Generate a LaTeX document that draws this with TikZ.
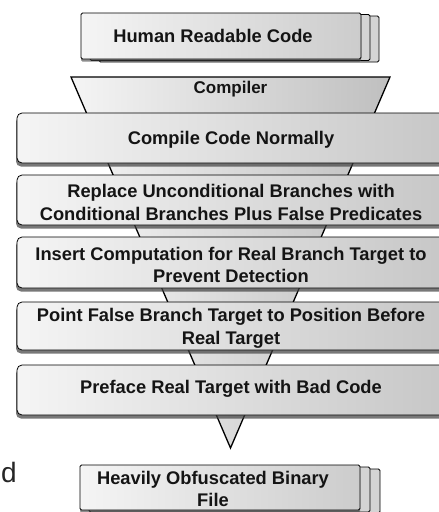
\documentclass[tikz,border=0pt]{standalone}
\usepackage{fontspec}
\setmainfont{Liberation Sans}
\usetikzlibrary{shadows}
\begin{document}
\begin{tikzpicture}[x=1pt,y=-1pt,
  lbl/.style={font=\fontsize{18.3}{22.5}\selectfont\bfseries, align=center, inner sep=0pt, text=black!92},
  stepbox/.style={draw=black, line width=0.8pt, rounded corners=5pt,
    left color=white!96!black, right color=black!22,
    drop shadow={shadow xshift=-1pt, shadow yshift=-3.5pt, fill=black!75, opacity=0.7}},
  docpage/.style={draw=black, line width=0.8pt, rounded corners=1.5pt, fill=black!17},
  docfront/.style={draw=black, line width=0.8pt, rounded corners=1.5pt,
    left color=white!96!black, right color=black!20,
    drop shadow={shadow xshift=0pt, shadow yshift=-2.5pt, fill=black!75, opacity=0.6}},
  funnel/.style={draw=black, line width=1.3pt, line join=miter,
    left color=white!96!black, right color=black!25}
]
\clip (0,0) rectangle (439,512);
\fill[white] (0,0) rectangle (439,512);

% funnel behind the steps
\path[funnel] (71,77) -- (390,77) -- (230.5,448) -- cycle;
\node[lbl, font=\fontsize{17}{20}\selectfont\bfseries] (compiler) at (230.5,89) {Compiler};

% top stacked document
\draw[docpage] (99,16) rectangle (379,62);
\draw[docpage] (90,14.5) rectangle (370,60.5);
\draw[docfront] (81,13) rectangle (361,59);
\node[lbl] (src) at (213,36) {Human Readable Code};

% step boxes
\node[stepbox, minimum width=428pt, minimum height=50pt, inner sep=0pt] (s1) at (231,138) {};
\node[lbl] (t1) at (231,140) {Compile Code Normally};
\node[stepbox, minimum width=428pt, minimum height=50pt, inner sep=0pt] (s2) at (231,200) {};
\node[lbl] (t2) at (231,202.5) {Replace Unconditional Branches with\\Conditional Branches Plus False Predicates};
\node[stepbox, minimum width=428pt, minimum height=51pt, inner sep=0pt] (s3) at (231,262.5) {};
\node[lbl] (t3) at (231,265) {Insert Computation for Real Branch Target to\\Prevent Detection};
\node[stepbox, minimum width=428pt, minimum height=48pt, inner sep=0pt] (s4) at (231,326) {};
\node[lbl] (t4) at (231,328.5) {Point False Branch Target to Position Before\\Real Target};
\node[stepbox, minimum width=428pt, minimum height=50pt, inner sep=0pt] (s5) at (231,390) {};
\node[lbl] (t5) at (231,389) {Preface Real Target with Bad Code};

% bottom stacked document
\draw[docpage] (98,469) rectangle (380,513);
\draw[docpage] (89,467) rectangle (370,512);
\draw[docfront] (80,465) rectangle (360,510);
\node[lbl] (out) at (213,489) {Heavily Obfuscated Binary\\File};

% stray letter at left edge
\node[font=\fontsize{28}{28}\selectfont, anchor=base west, inner sep=0pt, text=black!85] (d) at (1,482) {d};
\end{tikzpicture}
\end{document}
